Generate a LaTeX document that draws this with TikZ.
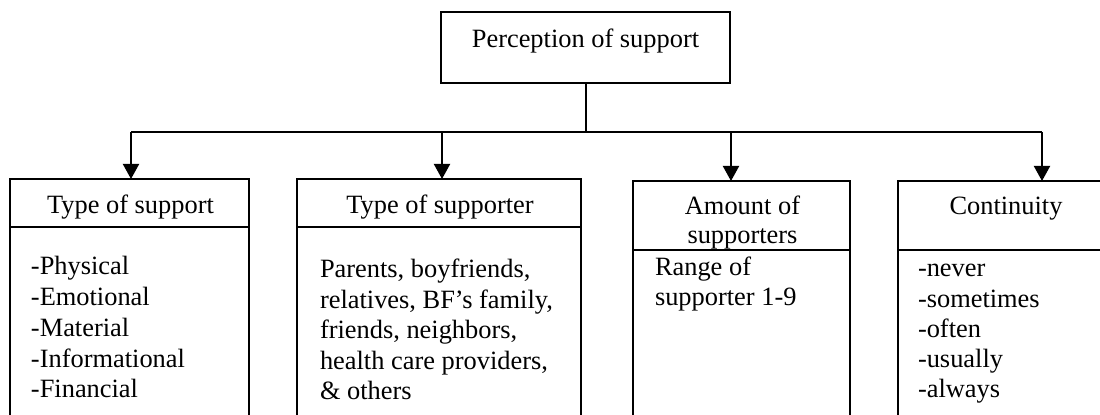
\documentclass[tikz,border=0pt]{standalone}
\usepackage{fontspec}
\setmainfont{Liberation Serif}
\usetikzlibrary{arrows.meta}
\begin{document}
\begin{tikzpicture}[x=0.5pt,y=-0.5pt,line width=1pt,
  box/.style={draw,anchor=north west,inner sep=0pt,outer sep=0pt},
  lbl/.style={inner sep=0pt,font=\fontsize{13.2}{15.25}\selectfont},
  arr/.style={-{Triangle[length=7.5pt,width=8pt]}}]
\useasboundingbox (0,0) rectangle (1100,415);
\clip (0,0) rectangle (1100,415);
% top box
\node[box,minimum width=144.5pt,minimum height=35.5pt] (top) at (441,12) {};
\node[lbl,anchor=base] (toptext) at (585.5,48) {Perception of support};
% lower boxes
\node[box,minimum width=119.5pt,minimum height=135pt] (b1) at (10,179) {};
\node[box,minimum width=142pt,minimum height=135pt] (b2) at (297,179) {};
\node[box,minimum width=108.5pt,minimum height=135pt] (b3) at (633,181) {};
\node[box,minimum width=108pt,minimum height=135pt] (b4) at (898,181) {};
% header rules
\draw (b1.west |- 0,227) -- (b1.east |- 0,227);
\draw (b2.west |- 0,227) -- (b2.east |- 0,227);
\draw (b3.west |- 0,250) -- (b3.east |- 0,250);
\draw (b4.west |- 0,250) -- (b4.east |- 0,250);
% connectors
\coordinate (j1) at (131,132);
\coordinate (j2) at (442,132);
\coordinate (j3) at (731,132);
\coordinate (j4) at (1042,132);
\draw (top.south) -- (top.south |- j1);
\draw (j1) -- (j4);
\draw[arr] (j1) -- (j1 |- b1.north);
\draw[arr] (j2) -- (j2 |- b2.north);
\draw[arr] (j3) -- (j3 |- b3.north);
\draw[arr] (j4) -- (j4 |- b4.north);
% headers
\node[lbl,anchor=base] (h1) at (130.5,214) {Type of support};
\node[lbl,anchor=base] (h2) at (440,214) {Type of supporter};
\node[lbl,anchor=base,align=center,font=\fontsize{13.2}{14.6}\selectfont] (h3) at (742.5,244) {Amount of\\supporters};
\node[lbl,anchor=base] (h4) at (1006,215) {Continuity};
% bodies
\node[lbl,anchor=base west,align=left,font=\fontsize{13.2}{15.4}\selectfont] (t1) at (30,398) {-Physical\\-Emotional\\-Material\\-Informational\\-Financial};
\node[lbl,anchor=base west,align=left,font=\fontsize{13.2}{15.25}\selectfont] (t2) at (319,400) {Parents, boyfriends,\\relatives, BF’s family,\\friends, neighbors,\\health care providers,\\\& others};
\node[lbl,anchor=base west,align=left,font=\fontsize{13.2}{15}\selectfont] (t3) at (654,306) {Range of\\supporter 1-9};
\node[lbl,anchor=base west,align=left,font=\fontsize{13.2}{15.15}\selectfont] (t4) at (917,398) {-never\\-sometimes\\-often\\-usually\\-always};
\end{tikzpicture}
\end{document}
